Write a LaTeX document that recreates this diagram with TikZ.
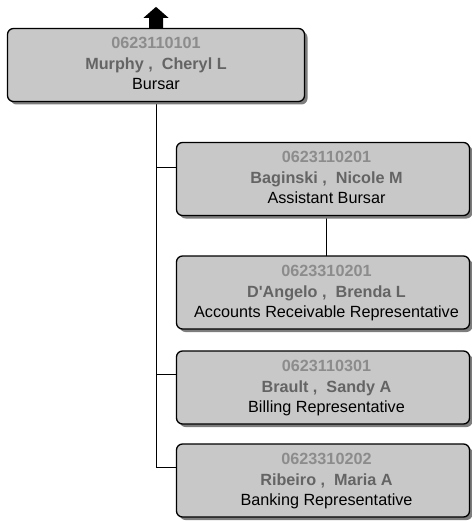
\documentclass[tikz,border=0pt]{standalone}
\usepackage{fontspec}
\setmainfont{Liberation Sans}
\usetikzlibrary{shadows}

\definecolor{boxfill}{RGB}{200,200,200}
\definecolor{idgray}{RGB}{140,140,140}
\definecolor{namegray}{RGB}{100,100,100}
\definecolor{shadowgray}{RGB}{125,125,125}

\tikzset{
  card/.style={draw=black, line width=1.3pt, rounded corners=6pt, fill=boxfill,
    minimum height=73pt, inner sep=0pt,
    drop shadow={shadow xshift=3pt, shadow yshift=-3pt, fill=shadowgray, opacity=1}},
  topcard/.style={card, minimum width=297pt},
  subcard/.style={card, minimum width=293pt},
  idtext/.style={anchor=base, inner sep=0pt, text=idgray, font=\fontsize{16.2}{18}\selectfont\bfseries},
  nametext/.style={anchor=base, inner sep=0pt, text=namegray, font=\fontsize{16.2}{18}\selectfont\bfseries},
  titletext/.style={anchor=base, inner sep=0pt, text=black, font=\fontsize{16.2}{18}\selectfont},
  link/.style={draw=black, line width=0.9pt},
}

% horizontal offset of the text block inside a card
\newlength\cardtextdx
% one person card: name, style, position, id, person, job title
\newcommand\personcard[6]{%
  \node[#2] (#1) at #3 {};
  \node[idtext]    (#1-id)    at ([xshift=\cardtextdx,yshift=16pt]#1.center)  {#4};
  \node[nametext]  (#1-name)  at ([xshift=\cardtextdx,yshift=-4.5pt]#1.center)  {#5};
  \node[titletext] (#1-title) at ([xshift=\cardtextdx,yshift=-24.5pt]#1.center) {#6};
}

\begin{document}
\begin{tikzpicture}[x=1pt,y=-1pt]
  \useasboundingbox (0,0) rectangle (471,521);

  % connectors first, so the cards sit on top of them
  \coordinate (trunk) at (156,102);
  \coordinate (bagbranch) at (176,167);
  \coordinate (braultbranch) at (176,374);
  \coordinate (ribbranch) at (176,467);
  \draw[link] (trunk) |- (bagbranch);
  \draw[link] (trunk) |- (braultbranch);
  \draw[link] (trunk) |- (ribbranch);
  \coordinate (bagdown) at (326,216);
  \coordinate (dangup) at (326,257);
  \draw[link] (bagdown) -- (dangup);

  \setlength\cardtextdx{0pt}
  \personcard{murphy}{topcard}{(156,65)}{0623110101}{Murphy , \ Cheryl L}{Bursar}
  \setlength\cardtextdx{3.5pt}
  \personcard{baginski}{subcard}{(323,179)}{0623110201}{Baginski , \ Nicole M}{Assistant Bursar}
  \personcard{dangelo}{subcard}{(323,292.5)}{0623310201}{D\textquotesingle Angelo , \ Brenda L}{Accounts Receivable Representative}
  \personcard{brault}{subcard}{(323,387.5)}{0623110301}{Brault , \ Sandy A}{Billing Representative}
  \personcard{ribeiro}{subcard}{(323,480.5)}{0623310202}{Ribeiro , \ Maria A}{Banking Representative}

  % upward arrow above the top card
  \fill[black] (murphy.north) ++(-7,0) -- ++(0,-10) -- ++(-5.5,0) -- ++(12.5,-11)
    -- ++(12.5,11) -- ++(-5.5,0) -- ++(0,10) -- cycle;
\end{tikzpicture}
\end{document}
